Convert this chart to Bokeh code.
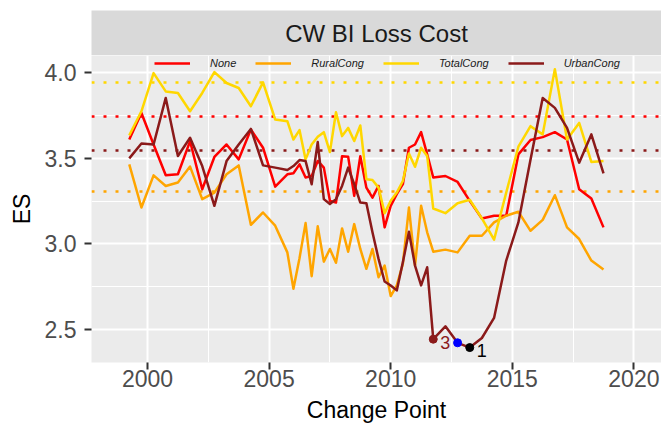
from bokeh.plotting import figure
from bokeh.layouts import column
from bokeh.models import FixedTicker, Legend, LegendItem, Label, Range1d, NumeralTickFormatter
from bokeh.core.properties import value
from bokeh.embed import file_html
from bokeh.resources import INLINE

# ---------------- data ----------------
years = [1999.25, 1999.75, 2000.25, 2000.75, 2001.25, 2001.75, 2002.25, 2002.75,
         2003.25, 2003.75, 2004.25, 2004.75, 2005.25, 2005.75,
         2006.0, 2006.25, 2006.5, 2006.75, 2007.0, 2007.25, 2007.5, 2007.75,
         2008.0, 2008.25, 2008.5, 2008.75, 2009.0, 2009.25, 2009.5, 2009.75,
         2010.0, 2010.25, 2010.5, 2010.75, 2011.0, 2011.25, 2011.5, 2011.75,
         2012.25, 2012.75, 2013.25, 2013.75, 2014.25, 2014.75, 2015.25, 2015.75,
         2016.25, 2016.75, 2017.25, 2017.75, 2018.25, 2018.75]

none_es = [3.610, 3.765, 3.581, 3.401, 3.407, 3.601, 3.320, 3.508, 3.581, 3.494, 3.669, 3.562, 3.335, 3.407,
           3.413, 3.465, 3.388, 3.397, 3.485, 3.446, 3.252, 3.242, 3.513, 3.510, 3.281, 3.513,
           3.329, 3.271, 3.339, 3.097, 3.223, 3.291, 3.349, 3.562, 3.581, 3.653, 3.523, 3.388,
           3.397, 3.362, 3.252, 3.149, 3.165, 3.165, 3.523, 3.607, 3.624, 3.653, 3.610, 3.320, 3.265, 3.097]

rural_es = [3.465, 3.213, 3.401, 3.339, 3.359, 3.452, 3.262, 3.300, 3.407, 3.459, 3.112, 3.184, 3.107, 2.951,
            2.738, 2.917, 3.122, 2.812, 3.103, 2.897, 2.971, 2.890, 3.091, 2.955, 3.116, 2.971,
            2.855, 2.971, 2.806, 2.874, 2.696, 2.758, 2.884, 3.213, 2.874, 3.223, 3.068, 2.955,
            2.967, 2.951, 3.048, 3.048, 3.126, 3.165, 3.188, 3.077, 3.141, 3.285, 3.097, 3.029, 2.903, 2.851]

total_es = [3.634, 3.775, 3.998, 3.891, 3.882, 3.775, 3.882, 4.004, 3.940, 3.911, 3.804, 3.944, 3.727, 3.717,
            3.610, 3.665, 3.494, 3.581, 3.626, 3.653, 3.537, 3.769, 3.630, 3.678, 3.601, 3.692,
            3.378, 3.374, 3.329, 3.180, 3.252, 3.300, 3.368, 3.529, 3.451, 3.562, 3.514, 3.207,
            3.180, 3.238, 3.258, 3.149, 3.025, 3.300, 3.568, 3.688, 3.640, 4.021, 3.610, 3.707, 3.479, 3.485]

urban_es = [3.500, 3.587, 3.581, 3.853, 3.514, 3.620, 3.455, 3.223, 3.484, 3.581, 3.672, 3.459, 3.446, 3.432,
            3.455, 3.490, 3.484, 3.349, 3.595, 3.262, 3.233, 3.262, 3.339, 3.446, 3.349, 3.242,
            3.238, 3.068, 2.913, 2.781, 2.758, 2.729, 2.893, 3.072, 2.874, 2.758, 2.864, 2.444,
            2.519, 2.423, 2.395, 2.451, 2.568, 2.903, 3.126, 3.494, 3.853, 3.795, 3.678, 3.475, 3.640, 3.413]

series_names = ["None", "RuralCong", "TotalCong", "UrbanCong"]
series_colors = ["#FF0000", "#FFA500", "#FFD700", "#8B1A1A"]
threshold_es = [3.745, 3.306, 3.942, 3.547]

cp_years = [2011.75, 2012.75, 2013.25]
cp_es = [2.444, 2.423, 2.395]
cp_colors = ["#8B1A1A", "#0000FF", "#000000"]
cp_labels = ["3", "", "1"]

x_ticks = [2000, 2005, 2010, 2015, 2020]
x_minor = [1997.5, 2002.5, 2007.5, 2012.5, 2017.5]
y_ticks = [2.5, 3.0, 3.5, 4.0]
y_minor = [2.25, 2.75, 3.25, 3.75]

title_text = "CW BI Loss Cost"
x_title = "Change Point"
y_title = "ES"

FONT = "Liberation Sans"

# ---------------- strip (facet title) ----------------
strip = figure(width=661, height=55, x_range=(0, 1), y_range=(0, 1),
               x_axis_type=None, y_axis_type=None,
               output_backend="svg", toolbar_location=None,
               min_border_left=91, min_border_right=0, min_border_top=10, min_border_bottom=0)
strip.background_fill_color = "#D9D9D9"
strip.outline_line_color = None
strip.grid.visible = False
strip.add_layout(Label(x=0.5, y=0.5, text=title_text, text_align="center", text_baseline="middle",
                       text_font=FONT, text_font_size="24px", text_color="#1A1A1A"))

# ---------------- main panel ----------------
p = figure(width=661, height=370,
           x_range=Range1d(1997.697, 2021.135), y_range=Range1d(2.3079, 4.1007),
           output_backend="svg", toolbar_location=None,
           min_border_left=91, min_border_right=0, min_border_top=0, min_border_bottom=62)
p.background_fill_color = "#EBEBEB"
p.outline_line_color = None

p.xaxis.ticker = FixedTicker(ticks=x_ticks, minor_ticks=x_minor)
p.yaxis.ticker = FixedTicker(ticks=y_ticks, minor_ticks=y_minor)
p.yaxis.formatter = NumeralTickFormatter(format="0.0")
p.xaxis.axis_label = x_title
p.yaxis.axis_label = y_title

for ax in (p.xaxis[0], p.yaxis[0]):
    ax.axis_line_color = None
    ax.major_tick_line_color = "#333333"
    ax.major_tick_line_width = 2
    ax.major_tick_out = 7
    ax.major_tick_in = 0
    ax.minor_tick_line_color = None
    ax.major_label_text_color = "#4D4D4D"
    ax.major_label_text_font = FONT
    ax.major_label_text_font_size = "23px"
    ax.axis_label_text_font = FONT
    ax.axis_label_text_font_size = "23px"
    ax.axis_label_text_font_style = "normal"
    ax.axis_label_text_color = "#000000"

p.xaxis.major_label_standoff = 0
p.xaxis.axis_label_standoff = 7
p.yaxis.major_label_standoff = 8
p.yaxis.axis_label_standoff = 7

p.grid.grid_line_color = "white"
p.grid.grid_line_width = 2
p.grid.minor_grid_line_color = "white"
p.grid.minor_grid_line_width = 1

# threshold lines
for col, thr in zip(series_colors, threshold_es):
    p.hspan(y=[thr], line_color=col, line_width=2.5, line_dash="3 9")

# series lines
all_series = [none_es, rural_es, total_es, urban_es]
items = []
for name, col, vals in zip(series_names, series_colors, all_series):
    r = p.line(years, vals, line_color=col, line_width=2.5, line_join="round")
    items.append(LegendItem(label=name, renderers=[r]))

# change points
p.scatter(cp_years, cp_es, color=cp_colors, size=8)
p.text(x=cp_years, y=cp_es, text=cp_labels, text_color=cp_colors,
       text_font=value(FONT), text_font_size="18px", x_offset=7, y_offset=3,
       text_align="left", text_baseline="middle")

legend = Legend(items=items, orientation="horizontal", location=(63, 293),
                glyph_width=36, glyph_height=12, label_height=12, label_standoff=20, spacing=19,
                padding=0, margin=0, label_text_font=FONT, label_text_font_size="11px",
                label_text_font_style="italic", label_text_color="#1A1A1A",
                background_fill_alpha=0, border_line_color=None)
p.add_layout(legend)

layout = column(strip, p, spacing=0)
open("out.html", "w").write(file_html(layout, INLINE))
